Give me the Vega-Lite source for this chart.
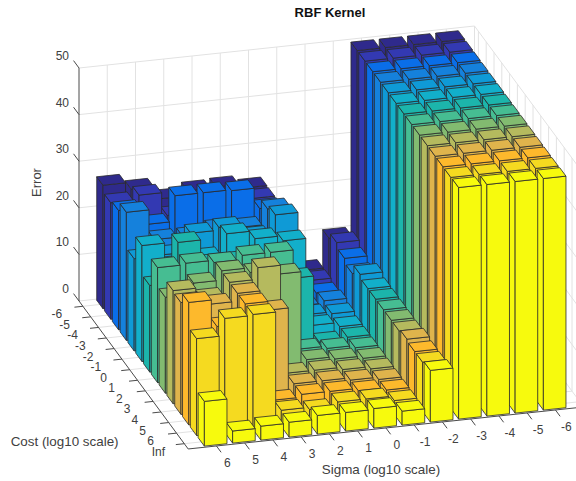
{"$schema":"https://vega.github.io/schema/vega-lite/v6.json","width":576,"height":481,"padding":0,"autosize":{"type":"none"},"background":"white","view":{"stroke":null},
"title":{"text":"RBF Kernel","anchor":"start","frame":"group","align":"center","baseline":"alphabetic","dx":330,"dy":30,"offset":0,"font":"Liberation Sans","fontSize":13,"fontWeight":"bold","color":"#111111"},
"datasets":{
"bars":[
{"cost":"-6","sigma":-6,"error":49.6},{"cost":"-6","sigma":-5,"error":49.6},{"cost":"-6","sigma":-4,"error":49.6},{"cost":"-6","sigma":-3,"error":49.6},{"cost":"-6","sigma":-2,"error":10},{"cost":"-6","sigma":-1,"error":3.7},{"cost":"-6","sigma":0,"error":3.5},{"cost":"-6","sigma":1,"error":22.7},{"cost":"-6","sigma":2,"error":23.6},{"cost":"-6","sigma":3,"error":23.4},{"cost":"-6","sigma":4,"error":22.3},{"cost":"-6","sigma":5,"error":25},{"cost":"-6","sigma":6,"error":26.5},
{"cost":"-5","sigma":-6,"error":49.6},{"cost":"-5","sigma":-5,"error":49.6},{"cost":"-5","sigma":-4,"error":49.6},{"cost":"-5","sigma":-3,"error":49.6},{"cost":"-5","sigma":-2,"error":11.3},{"cost":"-5","sigma":-1,"error":3.8},{"cost":"-5","sigma":0,"error":3.5},{"cost":"-5","sigma":1,"error":22.7},{"cost":"-5","sigma":2,"error":22},{"cost":"-5","sigma":3,"error":21},{"cost":"-5","sigma":4,"error":21},{"cost":"-5","sigma":5,"error":26},{"cost":"-5","sigma":6,"error":25},
{"cost":"-4","sigma":-6,"error":49.6},{"cost":"-4","sigma":-5,"error":49.6},{"cost":"-4","sigma":-4,"error":49.6},{"cost":"-4","sigma":-3,"error":49.6},{"cost":"-4","sigma":-2,"error":10.2},{"cost":"-4","sigma":-1,"error":3.4},{"cost":"-4","sigma":0,"error":3.5},{"cost":"-4","sigma":1,"error":22.8},{"cost":"-4","sigma":2,"error":27.3},{"cost":"-4","sigma":3,"error":27.5},{"cost":"-4","sigma":4,"error":27.5},{"cost":"-4","sigma":5,"error":22},{"cost":"-4","sigma":6,"error":25.6},
{"cost":"-3","sigma":-6,"error":49.6},{"cost":"-3","sigma":-5,"error":49.6},{"cost":"-3","sigma":-4,"error":49.6},{"cost":"-3","sigma":-3,"error":49.6},{"cost":"-3","sigma":-2,"error":9.2},{"cost":"-3","sigma":-1,"error":4},{"cost":"-3","sigma":0,"error":3.5},{"cost":"-3","sigma":1,"error":25},{"cost":"-3","sigma":2,"error":21.7},{"cost":"-3","sigma":3,"error":22},{"cost":"-3","sigma":4,"error":21},{"cost":"-3","sigma":5,"error":21},{"cost":"-3","sigma":6,"error":27.5},
{"cost":"-2","sigma":-6,"error":49.6},{"cost":"-2","sigma":-5,"error":49.6},{"cost":"-2","sigma":-4,"error":49.6},{"cost":"-2","sigma":-3,"error":49.6},{"cost":"-2","sigma":-2,"error":11.3},{"cost":"-2","sigma":-1,"error":3.5},{"cost":"-2","sigma":0,"error":3.9},{"cost":"-2","sigma":1,"error":26},{"cost":"-2","sigma":2,"error":22},{"cost":"-2","sigma":3,"error":24.6},{"cost":"-2","sigma":4,"error":24},{"cost":"-2","sigma":5,"error":20},{"cost":"-2","sigma":6,"error":19.8},
{"cost":"-1","sigma":-6,"error":49.6},{"cost":"-1","sigma":-5,"error":49.6},{"cost":"-1","sigma":-4,"error":49.6},{"cost":"-1","sigma":-3,"error":49.6},{"cost":"-1","sigma":-2,"error":10.5},{"cost":"-1","sigma":-1,"error":3},{"cost":"-1","sigma":0,"error":3.9},{"cost":"-1","sigma":1,"error":22.7},{"cost":"-1","sigma":2,"error":23.8},{"cost":"-1","sigma":3,"error":25.5},{"cost":"-1","sigma":4,"error":21},{"cost":"-1","sigma":5,"error":20},{"cost":"-1","sigma":6,"error":24.9},
{"cost":"0","sigma":-6,"error":49.6},{"cost":"0","sigma":-5,"error":49.6},{"cost":"0","sigma":-4,"error":49.6},{"cost":"0","sigma":-3,"error":49.6},{"cost":"0","sigma":-2,"error":10.5},{"cost":"0","sigma":-1,"error":3},{"cost":"0","sigma":0,"error":2.6},{"cost":"0","sigma":1,"error":16.9},{"cost":"0","sigma":2,"error":21},{"cost":"0","sigma":3,"error":22},{"cost":"0","sigma":4,"error":22},{"cost":"0","sigma":5,"error":27.2},{"cost":"0","sigma":6,"error":18.6},
{"cost":"1","sigma":-6,"error":49.6},{"cost":"1","sigma":-5,"error":49.6},{"cost":"1","sigma":-4,"error":49.6},{"cost":"1","sigma":-3,"error":49.6},{"cost":"1","sigma":-2,"error":10.5},{"cost":"1","sigma":-1,"error":3},{"cost":"1","sigma":0,"error":3.5},{"cost":"1","sigma":1,"error":4},{"cost":"1","sigma":2,"error":25.4},{"cost":"1","sigma":3,"error":25.4},{"cost":"1","sigma":4,"error":24.5},{"cost":"1","sigma":5,"error":25},{"cost":"1","sigma":6,"error":24.7},
{"cost":"2","sigma":-6,"error":49.6},{"cost":"2","sigma":-5,"error":49.6},{"cost":"2","sigma":-4,"error":49.6},{"cost":"2","sigma":-3,"error":49.6},{"cost":"2","sigma":-2,"error":10.5},{"cost":"2","sigma":-1,"error":3},{"cost":"2","sigma":0,"error":3.5},{"cost":"2","sigma":1,"error":4},{"cost":"2","sigma":2,"error":23},{"cost":"2","sigma":3,"error":24},{"cost":"2","sigma":4,"error":25},{"cost":"2","sigma":5,"error":23},{"cost":"2","sigma":6,"error":20.6},
{"cost":"3","sigma":-6,"error":49.6},{"cost":"3","sigma":-5,"error":49.6},{"cost":"3","sigma":-4,"error":49.6},{"cost":"3","sigma":-3,"error":49.6},{"cost":"3","sigma":-2,"error":10.5},{"cost":"3","sigma":-1,"error":3},{"cost":"3","sigma":0,"error":3.5},{"cost":"3","sigma":1,"error":4},{"cost":"3","sigma":2,"error":4},{"cost":"3","sigma":3,"error":27.3},{"cost":"3","sigma":4,"error":24.8},{"cost":"3","sigma":5,"error":22},{"cost":"3","sigma":6,"error":24.3},
{"cost":"4","sigma":-6,"error":49.6},{"cost":"4","sigma":-5,"error":49.6},{"cost":"4","sigma":-4,"error":49.6},{"cost":"4","sigma":-3,"error":49.6},{"cost":"4","sigma":-2,"error":11},{"cost":"4","sigma":-1,"error":3},{"cost":"4","sigma":0,"error":3.5},{"cost":"4","sigma":1,"error":4},{"cost":"4","sigma":2,"error":4},{"cost":"4","sigma":3,"error":20.4},{"cost":"4","sigma":4,"error":24.7},{"cost":"4","sigma":5,"error":23},{"cost":"4","sigma":6,"error":24},
{"cost":"5","sigma":-6,"error":49.6},{"cost":"5","sigma":-5,"error":49.6},{"cost":"5","sigma":-4,"error":49.6},{"cost":"5","sigma":-3,"error":49.6},{"cost":"5","sigma":-2,"error":10.6},{"cost":"5","sigma":-1,"error":3},{"cost":"5","sigma":0,"error":3.5},{"cost":"5","sigma":1,"error":4},{"cost":"5","sigma":2,"error":4},{"cost":"5","sigma":3,"error":3.4},{"cost":"5","sigma":4,"error":24.7},{"cost":"5","sigma":5,"error":20.5},{"cost":"5","sigma":6,"error":26.3},
{"cost":"6","sigma":-6,"error":49.6},{"cost":"6","sigma":-5,"error":49.6},{"cost":"6","sigma":-4,"error":49.6},{"cost":"6","sigma":-3,"error":49.6},{"cost":"6","sigma":-2,"error":10.6},{"cost":"6","sigma":-1,"error":3},{"cost":"6","sigma":0,"error":4},{"cost":"6","sigma":1,"error":4},{"cost":"6","sigma":2,"error":3},{"cost":"6","sigma":3,"error":3.5},{"cost":"6","sigma":4,"error":24.7},{"cost":"6","sigma":5,"error":24.5},{"cost":"6","sigma":6,"error":20.8},
{"cost":"Inf","sigma":-6,"error":49.7},{"cost":"Inf","sigma":-5,"error":49.7},{"cost":"Inf","sigma":-4,"error":49.7},{"cost":"Inf","sigma":-3,"error":49.7},{"cost":"Inf","sigma":-2,"error":11.1},{"cost":"Inf","sigma":-1,"error":3},{"cost":"Inf","sigma":0,"error":4.2},{"cost":"Inf","sigma":1,"error":4},{"cost":"Inf","sigma":2,"error":4},{"cost":"Inf","sigma":3,"error":3.2},{"cost":"Inf","sigma":4,"error":3},{"cost":"Inf","sigma":5,"error":2.6},{"cost":"Inf","sigma":6,"error":9.6}
],
"grid":[
{"i":-1,"j":-0.5,"z":0,"i2":13,"j2":-0.5,"z2":0},{"i":-1,"j":-0.5,"z":10,"i2":13,"j2":-0.5,"z2":10},{"i":-1,"j":-0.5,"z":20,"i2":13,"j2":-0.5,"z2":20},{"i":-1,"j":-0.5,"z":30,"i2":13,"j2":-0.5,"z2":30},{"i":-1,"j":-0.5,"z":40,"i2":13,"j2":-0.5,"z2":40},{"i":-1,"j":-0.5,"z":50,"i2":13,"j2":-0.5,"z2":50},
{"i":13,"j":-0.5,"z":0,"i2":13,"j2":13.5,"z2":0},{"i":13,"j":-0.5,"z":10,"i2":13,"j2":13.5,"z2":10},{"i":13,"j":-0.5,"z":20,"i2":13,"j2":13.5,"z2":20},{"i":13,"j":-0.5,"z":30,"i2":13,"j2":13.5,"z2":30},{"i":13,"j":-0.5,"z":40,"i2":13,"j2":13.5,"z2":40},{"i":13,"j":-0.5,"z":50,"i2":13,"j2":13.5,"z2":50},
{"i":0,"j":-0.5,"z":0,"i2":0,"j2":-0.5,"z2":50},{"i":1,"j":-0.5,"z":0,"i2":1,"j2":-0.5,"z2":50},{"i":2,"j":-0.5,"z":0,"i2":2,"j2":-0.5,"z2":50},{"i":3,"j":-0.5,"z":0,"i2":3,"j2":-0.5,"z2":50},{"i":4,"j":-0.5,"z":0,"i2":4,"j2":-0.5,"z2":50},{"i":5,"j":-0.5,"z":0,"i2":5,"j2":-0.5,"z2":50},{"i":6,"j":-0.5,"z":0,"i2":6,"j2":-0.5,"z2":50},{"i":7,"j":-0.5,"z":0,"i2":7,"j2":-0.5,"z2":50},{"i":8,"j":-0.5,"z":0,"i2":8,"j2":-0.5,"z2":50},{"i":9,"j":-0.5,"z":0,"i2":9,"j2":-0.5,"z2":50},{"i":10,"j":-0.5,"z":0,"i2":10,"j2":-0.5,"z2":50},{"i":11,"j":-0.5,"z":0,"i2":11,"j2":-0.5,"z2":50},{"i":12,"j":-0.5,"z":0,"i2":12,"j2":-0.5,"z2":50},{"i":13,"j":-0.5,"z":0,"i2":13,"j2":-0.5,"z2":50},
{"i":13,"j":0,"z":0,"i2":13,"j2":0,"z2":50},{"i":13,"j":1,"z":0,"i2":13,"j2":1,"z2":50},{"i":13,"j":2,"z":0,"i2":13,"j2":2,"z2":50},{"i":13,"j":3,"z":0,"i2":13,"j2":3,"z2":50},{"i":13,"j":4,"z":0,"i2":13,"j2":4,"z2":50},{"i":13,"j":5,"z":0,"i2":13,"j2":5,"z2":50},{"i":13,"j":6,"z":0,"i2":13,"j2":6,"z2":50},{"i":13,"j":7,"z":0,"i2":13,"j2":7,"z2":50},{"i":13,"j":8,"z":0,"i2":13,"j2":8,"z2":50},{"i":13,"j":9,"z":0,"i2":13,"j2":9,"z2":50},{"i":13,"j":10,"z":0,"i2":13,"j2":10,"z2":50},{"i":13,"j":11,"z":0,"i2":13,"j2":11,"z2":50},{"i":13,"j":12,"z":0,"i2":13,"j2":12,"z2":50},{"i":13,"j":13,"z":0,"i2":13,"j2":13,"z2":50},
{"i":0,"j":-0.5,"z":0,"i2":0,"j2":13.5,"z2":0},{"i":1,"j":-0.5,"z":0,"i2":1,"j2":13.5,"z2":0},{"i":2,"j":-0.5,"z":0,"i2":2,"j2":13.5,"z2":0},{"i":3,"j":-0.5,"z":0,"i2":3,"j2":13.5,"z2":0},{"i":4,"j":-0.5,"z":0,"i2":4,"j2":13.5,"z2":0},{"i":5,"j":-0.5,"z":0,"i2":5,"j2":13.5,"z2":0},{"i":6,"j":-0.5,"z":0,"i2":6,"j2":13.5,"z2":0},{"i":7,"j":-0.5,"z":0,"i2":7,"j2":13.5,"z2":0},{"i":8,"j":-0.5,"z":0,"i2":8,"j2":13.5,"z2":0},{"i":9,"j":-0.5,"z":0,"i2":9,"j2":13.5,"z2":0},{"i":10,"j":-0.5,"z":0,"i2":10,"j2":13.5,"z2":0},{"i":11,"j":-0.5,"z":0,"i2":11,"j2":13.5,"z2":0},{"i":12,"j":-0.5,"z":0,"i2":12,"j2":13.5,"z2":0},
{"i":-1,"j":0,"z":0,"i2":13,"j2":0,"z2":0},{"i":-1,"j":1,"z":0,"i2":13,"j2":1,"z2":0},{"i":-1,"j":2,"z":0,"i2":13,"j2":2,"z2":0},{"i":-1,"j":3,"z":0,"i2":13,"j2":3,"z2":0},{"i":-1,"j":4,"z":0,"i2":13,"j2":4,"z2":0},{"i":-1,"j":5,"z":0,"i2":13,"j2":5,"z2":0},{"i":-1,"j":6,"z":0,"i2":13,"j2":6,"z2":0},{"i":-1,"j":7,"z":0,"i2":13,"j2":7,"z2":0},{"i":-1,"j":8,"z":0,"i2":13,"j2":8,"z2":0},{"i":-1,"j":9,"z":0,"i2":13,"j2":9,"z2":0},{"i":-1,"j":10,"z":0,"i2":13,"j2":10,"z2":0},{"i":-1,"j":11,"z":0,"i2":13,"j2":11,"z2":0},{"i":-1,"j":12,"z":0,"i2":13,"j2":12,"z2":0},{"i":-1,"j":13,"z":0,"i2":13,"j2":13,"z2":0}
],
"axes":[
{"i":-1,"j":-0.5,"z":0,"i2":-1,"j2":-0.5,"z2":50},{"i":-1,"j":13.5,"z":0,"i2":13,"j2":13.5,"z2":0},{"i":-1,"j":-0.5,"z":0,"i2":-1,"j2":13.5,"z2":0},
{"i":-1,"j":-0.5,"z":0,"i2":-1,"j2":-1.2,"z2":0},{"i":-1,"j":-0.5,"z":10,"i2":-1,"j2":-1.2,"z2":10},{"i":-1,"j":-0.5,"z":20,"i2":-1,"j2":-1.2,"z2":20},{"i":-1,"j":-0.5,"z":30,"i2":-1,"j2":-1.2,"z2":30},{"i":-1,"j":-0.5,"z":40,"i2":-1,"j2":-1.2,"z2":40},{"i":-1,"j":-0.5,"z":50,"i2":-1,"j2":-1.2,"z2":50},
{"i":-1,"j":0,"z":0,"i2":-1.3,"j2":0,"z2":0},{"i":-1,"j":1,"z":0,"i2":-1.3,"j2":1,"z2":0},{"i":-1,"j":2,"z":0,"i2":-1.3,"j2":2,"z2":0},{"i":-1,"j":3,"z":0,"i2":-1.3,"j2":3,"z2":0},{"i":-1,"j":4,"z":0,"i2":-1.3,"j2":4,"z2":0},{"i":-1,"j":5,"z":0,"i2":-1.3,"j2":5,"z2":0},{"i":-1,"j":6,"z":0,"i2":-1.3,"j2":6,"z2":0},{"i":-1,"j":7,"z":0,"i2":-1.3,"j2":7,"z2":0},{"i":-1,"j":8,"z":0,"i2":-1.3,"j2":8,"z2":0},{"i":-1,"j":9,"z":0,"i2":-1.3,"j2":9,"z2":0},{"i":-1,"j":10,"z":0,"i2":-1.3,"j2":10,"z2":0},{"i":-1,"j":11,"z":0,"i2":-1.3,"j2":11,"z2":0},{"i":-1,"j":12,"z":0,"i2":-1.3,"j2":12,"z2":0},{"i":-1,"j":13,"z":0,"i2":-1.3,"j2":13,"z2":0},
{"i":0,"j":13.5,"z":0,"i2":0,"j2":14.1,"z2":0},{"i":1,"j":13.5,"z":0,"i2":1,"j2":14.1,"z2":0},{"i":2,"j":13.5,"z":0,"i2":2,"j2":14.1,"z2":0},{"i":3,"j":13.5,"z":0,"i2":3,"j2":14.1,"z2":0},{"i":4,"j":13.5,"z":0,"i2":4,"j2":14.1,"z2":0},{"i":5,"j":13.5,"z":0,"i2":5,"j2":14.1,"z2":0},{"i":6,"j":13.5,"z":0,"i2":6,"j2":14.1,"z2":0},{"i":7,"j":13.5,"z":0,"i2":7,"j2":14.1,"z2":0},{"i":8,"j":13.5,"z":0,"i2":8,"j2":14.1,"z2":0},{"i":9,"j":13.5,"z":0,"i2":9,"j2":14.1,"z2":0},{"i":10,"j":13.5,"z":0,"i2":10,"j2":14.1,"z2":0},{"i":11,"j":13.5,"z":0,"i2":11,"j2":14.1,"z2":0},{"i":12,"j":13.5,"z":0,"i2":12,"j2":14.1,"z2":0}
],
"zlabels":[{"label":"0","i":-1,"j":-0.5,"z":0},{"label":"10","i":-1,"j":-0.5,"z":10},{"label":"20","i":-1,"j":-0.5,"z":20},{"label":"30","i":-1,"j":-0.5,"z":30},{"label":"40","i":-1,"j":-0.5,"z":40},{"label":"50","i":-1,"j":-0.5,"z":50}],
"clabels":[{"label":"-6","i":-1,"j":0,"z":0},{"label":"-5","i":-1,"j":1,"z":0},{"label":"-4","i":-1,"j":2,"z":0},{"label":"-3","i":-1,"j":3,"z":0},{"label":"-2","i":-1,"j":4,"z":0},{"label":"-1","i":-1,"j":5,"z":0},{"label":"0","i":-1,"j":6,"z":0},{"label":"1","i":-1,"j":7,"z":0},{"label":"2","i":-1,"j":8,"z":0},{"label":"3","i":-1,"j":9,"z":0},{"label":"4","i":-1,"j":10,"z":0},{"label":"5","i":-1,"j":11,"z":0},{"label":"6","i":-1,"j":12,"z":0},{"label":"Inf","i":-1,"j":13,"z":0}],
"slabels":[{"label":"6","i":0,"j":13.5,"z":0},{"label":"5","i":1,"j":13.5,"z":0},{"label":"4","i":2,"j":13.5,"z":0},{"label":"3","i":3,"j":13.5,"z":0},{"label":"2","i":4,"j":13.5,"z":0},{"label":"1","i":5,"j":13.5,"z":0},{"label":"0","i":6,"j":13.5,"z":0},{"label":"-1","i":7,"j":13.5,"z":0},{"label":"-2","i":8,"j":13.5,"z":0},{"label":"-3","i":9,"j":13.5,"z":0},{"label":"-4","i":10,"j":13.5,"z":0},{"label":"-5","i":11,"j":13.5,"z":0},{"label":"-6","i":12,"j":13.5,"z":0}]
},
"layer":[
{"data":{"name":"grid"},"transform":[{"calculate":"79+(datum.i+1)*28.25+(datum.j+0.5)*7.8","as":"px"},{"calculate":"301-(datum.i+1)*3+(datum.j+0.5)*10.57-4.66*datum.z","as":"py"},{"calculate":"79+(datum.i2+1)*28.25+(datum.j2+0.5)*7.8","as":"px2"},{"calculate":"301-(datum.i2+1)*3+(datum.j2+0.5)*10.57-4.66*datum.z2","as":"py2"}],
"mark":{"type":"rule","color":"#e2e2e2","strokeWidth":1,"clip":true},
"encoding":{"x":{"field":"px","type":"quantitative","scale":{"domain":[0,576],"nice":false,"zero":false},"axis":null},"y":{"field":"py","type":"quantitative","scale":{"domain":[481,0],"nice":false,"zero":false},"axis":null},"x2":{"field":"px2"},"y2":{"field":"py2"}}},
{"data":{"name":"bars"},"transform":[
{"calculate":"datum.cost=='Inf'?13:(+datum.cost)+6","as":"j"},{"calculate":"6-datum.sigma","as":"i"},
{"calculate":"[2,1,0]","as":"f"},{"flatten":["f"]},{"calculate":"[0,1,2,3]","as":"v"},{"flatten":["v"]},
{"calculate":"(datum.j*13+12-datum.i)*3+(2-datum.f)","as":"id"},
{"calculate":"[[-0.4,0.4,0.4,-0.4],[-0.4,0.4,0.4,-0.4],[-0.4,-0.4,-0.4,-0.4]][datum.f][datum.v]","as":"di"},
{"calculate":"[[-0.4,-0.4,0.4,0.4],[0.4,0.4,0.4,0.4],[-0.4,0.4,0.4,-0.4]][datum.f][datum.v]","as":"dj"},
{"calculate":"[[1,1,1,1],[1,1,0,0],[1,1,0,0]][datum.f][datum.v]*datum.error","as":"zz"},
{"calculate":"79+(datum.i+datum.di+1)*28.25+(datum.j+datum.dj+0.5)*7.8","as":"px"},
{"calculate":"301-(datum.i+datum.di+1)*3+(datum.j+datum.dj+0.5)*10.57-4.66*datum.zz","as":"py"}],
"mark":{"type":"line","filled":true,"interpolate":"linear-closed","stroke":"#2b2b2b","strokeWidth":1,"strokeOpacity":0.8,"strokeJoin":"round"},
"encoding":{"x":{"field":"px","type":"quantitative","scale":{"domain":[0,576],"nice":false,"zero":false},"axis":null},"y":{"field":"py","type":"quantitative","scale":{"domain":[481,0],"nice":false,"zero":false},"axis":null},"order":{"field":"v","type":"quantitative"},"detail":{"field":"id","type":"nominal"},
"color":{"field":"cost","type":"nominal","legend":null,"scale":{"domain":["-6","-5","-4","-3","-2","-1","0","1","2","3","4","5","6","Inf"],"range":["#2f2a8c","#3339b2","#0a6ee8","#1581dc","#0f9ad6","#12afca","#1cb5ab","#46bd92","#82bb70","#b5ba5e","#dfb44c","#fdb92c","#f5da20","#f7fa0d"]}}}},
{"data":{"name":"axes"},"transform":[{"calculate":"79+(datum.i+1)*28.25+(datum.j+0.5)*7.8","as":"px"},{"calculate":"301-(datum.i+1)*3+(datum.j+0.5)*10.57-4.66*datum.z","as":"py"},{"calculate":"79+(datum.i2+1)*28.25+(datum.j2+0.5)*7.8","as":"px2"},{"calculate":"301-(datum.i2+1)*3+(datum.j2+0.5)*10.57-4.66*datum.z2","as":"py2"}],
"mark":{"type":"rule","color":"#4a4a4a","strokeWidth":1,"clip":true},
"encoding":{"x":{"field":"px","type":"quantitative","scale":{"domain":[0,576],"nice":false,"zero":false},"axis":null},"y":{"field":"py","type":"quantitative","scale":{"domain":[481,0],"nice":false,"zero":false},"axis":null},"x2":{"field":"px2"},"y2":{"field":"py2"}}},
{"data":{"name":"zlabels"},"transform":[{"calculate":"79+(datum.i+1)*28.25+(datum.j+0.5)*7.8","as":"px"},{"calculate":"301-(datum.i+1)*3+(datum.j+0.5)*10.57-4.66*datum.z","as":"py"}],
"mark":{"type":"text","font":"Liberation Sans","fontSize":12,"color":"#404040","align":"right","baseline":"middle","dx":-10,"dy":-12},
"encoding":{"x":{"field":"px","type":"quantitative","scale":{"domain":[0,576],"nice":false,"zero":false},"axis":null},"y":{"field":"py","type":"quantitative","scale":{"domain":[481,0],"nice":false,"zero":false},"axis":null},"text":{"field":"label"}}},
{"data":{"name":"clabels"},"transform":[{"calculate":"79+(datum.i+1)*28.25+(datum.j+0.5)*7.8","as":"px"},{"calculate":"301-(datum.i+1)*3+(datum.j+0.5)*10.57-4.66*datum.z","as":"py"}],
"mark":{"type":"text","font":"Liberation Sans","fontSize":12,"color":"#404040","align":"center","baseline":"middle","dx":-26,"dy":8},
"encoding":{"x":{"field":"px","type":"quantitative","scale":{"domain":[0,576],"nice":false,"zero":false},"axis":null},"y":{"field":"py","type":"quantitative","scale":{"domain":[481,0],"nice":false,"zero":false},"axis":null},"text":{"field":"label"}}},
{"data":{"name":"slabels"},"transform":[{"calculate":"79+(datum.i+1)*28.25+(datum.j+0.5)*7.8","as":"px"},{"calculate":"301-(datum.i+1)*3+(datum.j+0.5)*10.57-4.66*datum.z","as":"py"}],
"mark":{"type":"text","font":"Liberation Sans","fontSize":12,"color":"#404040","align":"center","baseline":"middle","dx":11,"dy":17},
"encoding":{"x":{"field":"px","type":"quantitative","scale":{"domain":[0,576],"nice":false,"zero":false},"axis":null},"y":{"field":"py","type":"quantitative","scale":{"domain":[481,0],"nice":false,"zero":false},"axis":null},"text":{"field":"label"}}},
{"data":{"values":[{"label":"Error","i":-1,"j":-0.5,"z":25}]},"transform":[{"calculate":"79+(datum.i+1)*28.25+(datum.j+0.5)*7.8","as":"px"},{"calculate":"301-(datum.i+1)*3+(datum.j+0.5)*10.57-4.66*datum.z","as":"py"}],
"mark":{"type":"text","font":"Liberation Sans","fontSize":13,"color":"#404040","align":"center","baseline":"middle","angle":270,"dx":2,"dy":-42},
"encoding":{"x":{"field":"px","type":"quantitative","scale":{"domain":[0,576],"nice":false,"zero":false},"axis":null},"y":{"field":"py","type":"quantitative","scale":{"domain":[481,0],"nice":false,"zero":false},"axis":null},"text":{"field":"label"}}},
{"data":{"values":[{"label":"Sigma (log10 scale)","i":6,"j":13.5,"z":0}]},"transform":[{"calculate":"79+(datum.i+1)*28.25+(datum.j+0.5)*7.8","as":"px"},{"calculate":"301-(datum.i+1)*3+(datum.j+0.5)*10.57-4.66*datum.z","as":"py"}],
"mark":{"type":"text","font":"Liberation Sans","fontSize":13.4,"color":"#404040","align":"center","baseline":"middle","dx":-5,"dy":42},
"encoding":{"x":{"field":"px","type":"quantitative","scale":{"domain":[0,576],"nice":false,"zero":false},"axis":null},"y":{"field":"py","type":"quantitative","scale":{"domain":[481,0],"nice":false,"zero":false},"axis":null},"text":{"field":"label"}}},
{"data":{"values":[{"label":"Cost (log10 scale)","i":-1,"j":6.5,"z":0}]},"transform":[{"calculate":"79+(datum.i+1)*28.25+(datum.j+0.5)*7.8","as":"px"},{"calculate":"301-(datum.i+1)*3+(datum.j+0.5)*10.57-4.66*datum.z","as":"py"}],
"mark":{"type":"text","font":"Liberation Sans","fontSize":13.4,"color":"#404040","align":"center","baseline":"middle","dx":-69,"dy":67},
"encoding":{"x":{"field":"px","type":"quantitative","scale":{"domain":[0,576],"nice":false,"zero":false},"axis":null},"y":{"field":"py","type":"quantitative","scale":{"domain":[481,0],"nice":false,"zero":false},"axis":null},"text":{"field":"label"}}}
]}
